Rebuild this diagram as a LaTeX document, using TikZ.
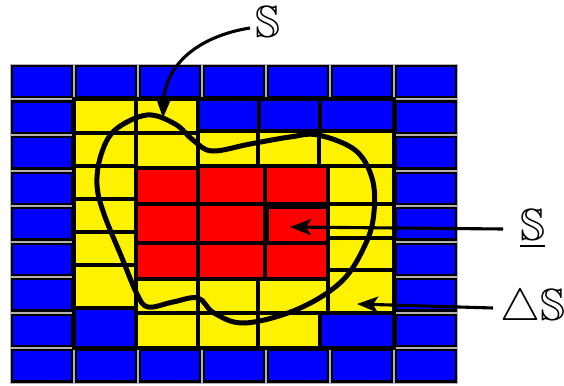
\documentclass[tikz,border=0pt]{standalone}
\usepackage{amssymb}
\usepackage{graphicx}
\usetikzlibrary{arrows.meta}
\newcommand\ocell[2]{%
  \fill[cellbg] ({#1},{#2}) rectangle ({#1+64},{#2+35.5});
  \draw[otile] ({#1+2.2},{#2+2.2}) rectangle ({#1+61.8},{#2+33.3});}
\newcommand\itl[5]{\draw[#5] (#1,#2) rectangle (#3,#4);}
\newcommand\biglbl{\scalebox{4.5}}
\begin{document}
\begin{tikzpicture}[x=1pt,y=-1pt,
  cellbg/.style={fill=black!30},
  otile/.style={fill=blue, draw=black, line width=2.4pt},
  itile/.style={draw=black, line width=3.2pt},
  bl/.style={itile, fill=blue},
  ye/.style={itile, fill=yellow},
  re/.style={itile, fill=red},
  curveS/.style={line width=5pt, black},
  arr/.style={line width=3.1pt, -{Stealth[length=21pt,width=16pt,inset=5pt]}},
  lbl/.style={inner sep=0pt}
]
\useasboundingbox (0,0) rectangle (564,385);
% outer ring of blue tiles
\foreach \i in {0,...,6} {\ocell{10+64*\i}{64}\ocell{10+64*\i}{348}}
\foreach \j in {1,...,7} {\ocell{10}{64+35.5*\j}\ocell{394}{64+35.5*\j}}
% inner region
\fill[black] (74,99) rectangle (394,348);
% column 1
\itl{74}{99}{136}{133}{ye}
\itl{74}{133}{136}{166}{ye}
\itl{74}{166}{136}{199}{ye}
\itl{74}{199}{136}{232}{ye}
\itl{74}{232}{136}{265}{ye}
\itl{74}{265}{136}{308}{ye}
\itl{74}{308}{136}{348}{bl}
% column 2
\itl{136}{99}{198}{133}{ye}
\itl{136}{133}{198}{168}{ye}
\itl{136}{168}{198}{204}{re}
\itl{136}{204}{198}{243}{re}
\itl{136}{243}{198}{279}{re}
\itl{136}{279}{198}{313}{ye}
\itl{136}{313}{198}{348}{ye}
% top inner row
\itl{198}{99}{259}{131}{bl}
\itl{259}{99}{320}{131}{bl}
\itl{320}{99}{394}{131}{bl}
% second row
\itl{198}{131}{258}{166}{ye}
\itl{258}{131}{319}{166}{ye}
\itl{319}{131}{394}{166}{ye}
% red block
\itl{198}{166}{265}{204}{re}
\itl{265}{166}{328}{204}{re}
\itl{198}{204}{265}{243}{re}
\itl{265}{204}{328}{243}{re}
\itl{267}{207}{328}{243}{re}
\itl{198}{243}{265}{279}{re}
\itl{265}{243}{328}{279}{re}
% right yellow column
\itl{328}{166}{394}{204}{ye}
\itl{328}{204}{394}{238}{ye}
\itl{328}{238}{394}{270}{ye}
\itl{328}{270}{394}{313}{ye}
% lower rows
\itl{198}{279}{258}{313}{ye}
\itl{258}{279}{328}{313}{ye}
\itl{198}{313}{258}{348}{ye}
\itl{258}{313}{320}{348}{ye}
\itl{320}{313}{394}{348}{bl}
\draw[line width=4.5pt] (74,99) rectangle (394,348);
% the set S
\draw[curveS] plot[smooth cycle, tension=0.6] coordinates {
 (147,115) (175,124) (193,140) (212,151) (250,144) (290,137) (318,135)
 (355,150) (372,178) (374,212) (366,243) (342,281) (298,309) (245,323)
 (214,313) (198,298) (173,302) (148,307) (137,294) (122,258) (104,214)
 (97,185) (101,155) (115,130)};
% labels
\node[lbl, anchor=base west] (lblS) at (255,38) {\biglbl{$\mathbb{S}$}};
\node[lbl, anchor=base west] (lblIn) at (520,240) {\biglbl{$\underline{\mathbb{S}}$}};
\node[lbl, anchor=base west] (lblD) at (500,320) {\biglbl{$\triangle\mathbb{S}$}};
% arrows
\coordinate (sTop) at (250,28);
\coordinate (tipTop) at (163,118);
\coordinate (sIn) at (503,229);
\coordinate (tipIn) at (290,227);
\coordinate (sD) at (493,308);
\coordinate (tipD) at (357,304);
\draw[arr] (sTop) .. controls (205,35) and (165,60) .. (tipTop);
\draw[arr] (sIn) -- (tipIn);
\draw[arr] (sD) -- (tipD);
\end{tikzpicture}
\end{document}
